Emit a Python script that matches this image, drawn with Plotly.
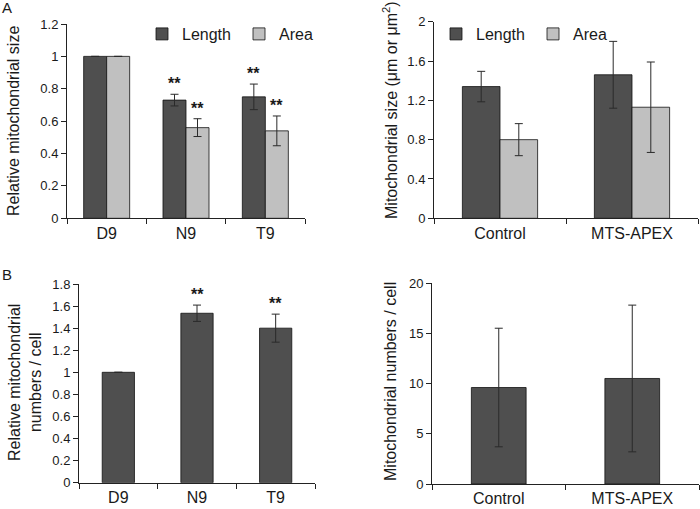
import plotly.graph_objects as go

# ---------------- data ----------------
cells = ["D9", "N9", "T9"]
rel_length = [1.0, 0.73, 0.75]
rel_length_err = [0, 0.036, 0.079]
rel_area = [1.0, 0.56, 0.54]
rel_area_err = [0, 0.055, 0.092]
rel_length_sig = ["", "**", "**"]
rel_area_sig = ["", "**", "**"]

groups = ["Control", "MTS-APEX"]
abs_length = [1.34, 1.46]
abs_length_err = [0.155, 0.34]
abs_area = [0.80, 1.13]
abs_area_err = [0.163, 0.46]

rel_numbers = [1.0, 1.535, 1.40]
rel_numbers_err = [0, 0.074, 0.127]
rel_numbers_sig = ["", "**", "**"]

abs_numbers = [9.6, 10.5]
abs_numbers_err = [5.9, 7.3]

# ---------------- style ----------------
W, H = 700, 509
DARK = "#4f4f4f"
LIGHT = "#c0c0c0"
FONT = "Liberation Sans, Arial, sans-serif"
TXT = "#1a1a1a"


def px_x(p):
    return p / W


def px_y(p):
    return 1 - p / H


fig = go.Figure()

err_style = dict(type="data", visible=True, color="#2a2a2a", thickness=1, width=4)
line_style = dict(color="#111", width=0.8)

# Panel A left
fig.add_trace(go.Bar(x=cells, y=rel_length, name="Length", marker=dict(color=DARK, line=line_style),
                     error_y=dict(array=rel_length_err, **err_style), offset=-0.29, width=0.29,
                     xaxis="x", yaxis="y", legend="legend"))
fig.add_trace(go.Bar(x=cells, y=rel_area, name="Area", marker=dict(color=LIGHT, line=line_style),
                     error_y=dict(array=rel_area_err, **err_style), offset=0, width=0.29,
                     xaxis="x", yaxis="y", legend="legend"))

# Panel A right
fig.add_trace(go.Bar(x=groups, y=abs_length, name="Length", marker=dict(color=DARK, line=line_style),
                     error_y=dict(array=abs_length_err, **err_style), offset=-0.285, width=0.285,
                     xaxis="x2", yaxis="y2", legend="legend2"))
fig.add_trace(go.Bar(x=groups, y=abs_area, name="Area", marker=dict(color=LIGHT, line=line_style),
                     error_y=dict(array=abs_area_err, **err_style), offset=0, width=0.285,
                     xaxis="x2", yaxis="y2", legend="legend2"))

# Panel B left
fig.add_trace(go.Bar(x=cells, y=rel_numbers, name="Numbers", marker=dict(color=DARK, line=line_style),
                     error_y=dict(array=rel_numbers_err, **err_style), width=0.41,
                     xaxis="x3", yaxis="y3", showlegend=False))

# Panel B right
fig.add_trace(go.Bar(x=groups, y=abs_numbers, name="Numbers", marker=dict(color=DARK, line=line_style),
                     error_y=dict(array=abs_numbers_err, **err_style), width=0.41,
                     xaxis="x4", yaxis="y4", showlegend=False))

# significance stars
star_font = dict(size=16, color=TXT, family=FONT)
annotations = []
for i, (v, e, s) in enumerate(zip(rel_length, rel_length_err, rel_length_sig)):
    if s:
        annotations.append(dict(x=i - 0.145, y=v + e, xref="x", yref="y", text="<b>" + s + "</b>",
                                showarrow=False, xanchor="center", yanchor="bottom", yshift=0, font=star_font))
for i, (v, e, s) in enumerate(zip(rel_area, rel_area_err, rel_area_sig)):
    if s:
        annotations.append(dict(x=i + 0.145, y=v + e, xref="x", yref="y", text="<b>" + s + "</b>",
                                showarrow=False, xanchor="center", yanchor="bottom", yshift=0, font=star_font))
for i, (v, e, s) in enumerate(zip(rel_numbers, rel_numbers_err, rel_numbers_sig)):
    if s:
        annotations.append(dict(x=i, y=v + e, xref="x3", yref="y3", text="<b>" + s + "</b>",
                                showarrow=False, xanchor="center", yanchor="bottom", yshift=0, font=star_font))

# axis titles (as rotated annotations) and panel letters
title_font = dict(size=16, color=TXT, family=FONT)
annotations += [
    dict(x=px_x(14), y=px_y(121), xref="paper", yref="paper", text="Relative mitochondrial size",
         textangle=-90, showarrow=False, xanchor="center", yanchor="middle", font=title_font),
    dict(x=px_x(390), y=px_y(110), xref="paper", yref="paper", text="Mitochondrial size (μm or μm<sup>2</sup>)",
         textangle=-90, showarrow=False, xanchor="center", yanchor="middle", font=title_font),
    dict(x=px_x(25), y=px_y(383), xref="paper", yref="paper",
         text="Relative mitochondrial<br>numbers / cell", textangle=-90, showarrow=False,
         xanchor="center", yanchor="middle", font=title_font),
    dict(x=px_x(390), y=px_y(382), xref="paper", yref="paper", text="Mitochondrial numbers / cell",
         textangle=-90, showarrow=False, xanchor="center", yanchor="middle", font=title_font),
    dict(x=px_x(0), y=px_y(7), xref="paper", yref="paper", text="A", xanchor="left", yanchor="middle",
         showarrow=False, font=dict(size=15, color=TXT, family=FONT)),
    dict(x=px_x(0), y=px_y(274), xref="paper", yref="paper", text="B", xanchor="left", yanchor="middle",
         showarrow=False, font=dict(size=15, color=TXT, family=FONT)),
]

xcommon = dict(type="category", showline=True, linecolor="#222", linewidth=1, ticks="outside",
               tickson="boundaries", ticklen=5, tickcolor="#222", showgrid=False, zeroline=False,
               automargin=False, tickfont=dict(size=16, color=TXT, family=FONT), fixedrange=True)
ycommon = dict(showline=True, linecolor="#222", linewidth=1, ticks="outside", ticklen=5,
               tickcolor="#222", showgrid=False, zeroline=False, automargin=False,
               tickfont=dict(size=13, color=TXT, family=FONT), fixedrange=True)

legend_common = dict(orientation="h", yanchor="middle", xanchor="left",
                     font=dict(size=16, color=TXT, family=FONT), bgcolor="rgba(0,0,0,0)",
                     itemwidth=30, traceorder="normal", entrywidth=52, entrywidthmode="pixels")

fig.update_layout(
    template="none",
    width=W, height=H,
    margin=dict(l=0, r=0, t=0, b=0, autoexpand=False),
    paper_bgcolor="white", plot_bgcolor="white",
    barmode="group",
    font=dict(family=FONT, color=TXT),
    xaxis=dict(domain=[px_x(67), px_x(305)], anchor="y", range=[-0.5, 2.5], **xcommon),
    yaxis=dict(domain=[px_y(218.3), px_y(24)], anchor="x", range=[0, 1.2], dtick=0.2, **ycommon),
    xaxis2=dict(domain=[px_x(434), px_x(698)], anchor="y2", range=[-0.5, 1.5], **xcommon),
    yaxis2=dict(domain=[px_y(218.3), px_y(21.7)], anchor="x2", range=[0, 2], dtick=0.4, **ycommon),
    xaxis3=dict(domain=[px_x(79), px_x(315)], anchor="y3", range=[-0.5, 2.5], **xcommon),
    yaxis3=dict(domain=[px_y(482.7), px_y(284)], anchor="x3", range=[0, 1.8], dtick=0.2, **ycommon),
    xaxis4=dict(domain=[px_x(432), px_x(699)], anchor="y4", range=[-0.5, 1.5], **xcommon),
    yaxis4=dict(domain=[px_y(484), px_y(283)], anchor="x4", range=[0, 20], dtick=5, **ycommon),
    legend=dict(x=px_x(142), y=px_y(34), **legend_common),
    legend2=dict(x=px_x(436), y=px_y(34), **legend_common),
    annotations=annotations,
)

fig.write_html("out.html", config={"displayModeBar": False},
               post_script="document.body.style.margin='0';")
